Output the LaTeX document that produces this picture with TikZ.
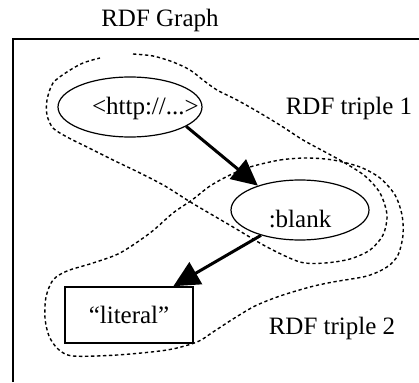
\documentclass[tikz,border=0pt]{standalone}
\usepackage{fontspec}
\setmainfont{Liberation Serif}
\usepackage{tikz}
\usetikzlibrary{arrows.meta,shapes.geometric}

\begin{document}
\begin{tikzpicture}[x=1pt,y=-1pt,font=\fontsize{25}{30}\selectfont]
    % `resource' is used for the URI and the blank node (ellipses).
    % `literalbox' is used for the literal value.
    % `link' is used for the predicates, `triple' for the dotted outlines.
    \tikzstyle{resource} = [draw,shape=ellipse,line width=1.2pt,inner sep=0pt]
    \tikzstyle{literalbox} = [draw,line width=1.6pt,inner sep=0pt,minimum width=128pt,minimum height=56pt]
    \tikzstyle{link} = [line width=3pt,-{Triangle[length=26pt,width=25pt]}]
    \tikzstyle{triple} = [line width=1.4pt,dash pattern=on 3.3pt off 2.7pt]
    \useasboundingbox (0,0) rectangle (419,382);
    %
    % Graph frame and title.
    \draw[line width=2pt] (13,382) -- (13,39) -- (419,39);
    \node (title) at (160,20) {RDF Graph};
    % Nodes of the graph.
    \node[resource,minimum width=144pt,minimum height=60pt,text height=16pt,text depth=0pt]
        (uri) at (130,107) {\makebox[0pt][l]{\hspace*{-38pt}<http://...>}};
    \node[resource,minimum width=138pt,minimum height=60pt,text height=34pt,text depth=0pt]
        (blank) at (300,210) {:blank};
    \node[literalbox] (literal) at (129,315) {“literal”};
    % Draw predicates.
    \draw[link] (uri.-19) -- (blank.150);
    \draw[link] (blank.213) -- (literal.33);
    % Draw triple outlines.
    \draw[triple] plot[smooth] coordinates {(133,54) (153,56) (173,62) (190,70) (203,80)
        (217,90) (237,100) (260,113) (283,127) (303,140) (327,153) (345,163) (365,176)
        (380,193) (387,215) (383,235) (370,250) (350,259) (325,263) (300,262) (267,247)
        (233,227) (192,203) (165,186) (140,173) (113,160) (87,147) (67,137) (53,128)
        (47,115) (47,100) (53,83) (67,72) (83,63) (100,58)};
    \node (t1) at (349,108) {RDF triple 1};
    \draw[triple] plot[smooth cycle] coordinates {(250,167) (280,160) (307,158) (333,160)
        (360,167) (380,178) (395,195) (402,215) (403,235) (398,255) (387,267) (367,276)
        (333,282) (310,287) (280,296) (255,306) (233,319) (213,332) (197,342) (167,350)
        (117,355) (73,356) (58,349) (49,336) (45,318) (46,297) (53,280) (67,271) (93,263)
        (120,253) (150,233) (173,213) (192,200) (210,186) (230,175)};
    \node (t2) at (332,328) {RDF triple 2};
\end{tikzpicture}
\end{document}
